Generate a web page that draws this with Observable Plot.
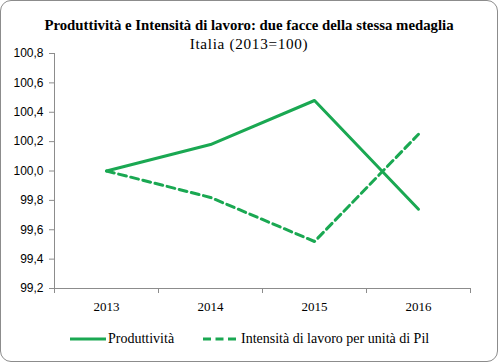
<!DOCTYPE html>
<html><head><meta charset="utf-8">
<script src="https://cdn.jsdelivr.net/npm/d3@7"></script>
<script src="https://cdn.jsdelivr.net/npm/@observablehq/plot@0.6"></script>
<style>
body{margin:0;background:#fff;}
#box{position:absolute;left:0;top:0;width:498px;height:362px;box-sizing:border-box;border:1px solid #8c8c8c;border-radius:11px;font-family:"Liberation Serif",serif;overflow:hidden;}
#title{position:absolute;top:16px;left:0;width:100%;text-align:center;font-weight:bold;font-size:14.8px;color:#000;}
#subtitle{position:absolute;top:34px;left:0;width:100%;text-align:center;font-size:15.2px;letter-spacing:0.7px;color:#000;}
#chart{position:absolute;top:43px;left:0;}
#legend{position:absolute;top:330px;left:0;width:100%;font-size:14px;color:#000;}
.item{position:absolute;top:0;display:flex;align-items:center;gap:1px;}
</style></head><body>
<div id="box">
<div id="title">Produttività e Intensità di lavoro: due facce della stessa medaglia</div>
<div id="subtitle">Italia (2013=100)</div>
<div id="chart"></div>
<div id="legend"></div>
</div>
<script>
const years = [2013, 2014, 2015, 2016];
const produttivita = [100.0, 100.18, 100.48, 99.74];
const intensita = [100.0, 99.82, 99.52, 100.25];
const seriesNames = ["Produttività", "Intensità di lavoro per unità di Pil"];
const yTicks = [99.2, 99.4, 99.6, 99.8, 100.0, 100.2, 100.4, 100.6, 100.8];
const green = "#1aa852";

const data = [];
years.forEach((y, i) => {
  data.push({year: y, value: produttivita[i], s: seriesNames[0]});
  data.push({year: y, value: intensita[i], s: seriesNames[1]});
});
const bounds = [years[0] - 0.5, ...years.map(y => y + 0.5)];
const fmt = d => d3.format(".1f")(d).replace(".", ",");

const chart = Plot.plot({
  width: 496, height: 273,
  marginLeft: 53, marginRight: 27, marginTop: 9, marginBottom: 29,
  style: {fontFamily: "Liberation Serif, serif", fontSize: "13px", color: "#000", background: "transparent"},
  x: {domain: [bounds[0], bounds[bounds.length - 1]]},
  y: {domain: [99.2, 100.8]},
  marks: [
    Plot.axisY({ticks: yTicks, tickFormat: fmt, tickSize: 5, tickPadding: 6, stroke: "#8c8c8c", label: null, fontSize: 12, fontFamily: "Liberation Sans, sans-serif"}),
    Plot.axisX({ticks: years, tickFormat: d => String(d), tickSize: 0, tickPadding: 13, label: null, fontSize: 13}),
    Plot.axisX({ticks: bounds, tickFormat: () => "", tickSize: 5, stroke: "#8c8c8c", label: null}),
    Plot.ruleX([bounds[0]], {stroke: "#8c8c8c"}),
    Plot.ruleY([99.2], {stroke: "#8c8c8c"}),
    Plot.lineY(data.filter(d => d.s === seriesNames[0]), {x: "year", y: "value", stroke: green, strokeWidth: 3}),
    Plot.lineY(data.filter(d => d.s === seriesNames[1]), {x: "year", y: "value", stroke: green, strokeWidth: 3, strokeDasharray: "8,4.5"})
  ]
});
document.getElementById("chart").appendChild(chart);

const leg = document.getElementById("legend");
const items = [
  {name: seriesNames[0], dash: null, left: 68},
  {name: seriesNames[1], dash: "8,4.5", left: 201}
];
items.forEach(it => {
  const div = document.createElement("div");
  div.className = "item";
  div.style.left = it.left + "px";
  div.innerHTML = `<svg width="38" height="10"><line x1="1" y1="5" x2="37" y2="5" stroke="${green}" stroke-width="3" ${it.dash ? `stroke-dasharray="${it.dash}"` : ""}/></svg><span>${it.name}</span>`;
  leg.appendChild(div);
});
</script>
</body></html>
